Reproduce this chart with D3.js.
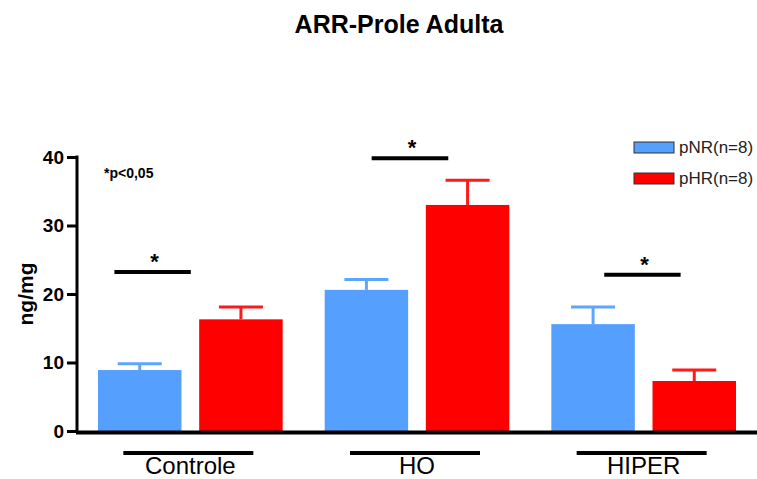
<!DOCTYPE html>
<html>
<head>
<meta charset="utf-8">
<script src="https://cdn.jsdelivr.net/npm/d3@7"></script>
<style>
  body { margin: 0; background: #fff; }
  text { font-family: "Liberation Sans", Arial, sans-serif; }
</style>
</head>
<body>
<div id="chart"></div>
<script>
// dados
var groups = ['Controle', 'HO', 'HIPER'];
var series = ['pNR(n=8)', 'pHR(n=8)'];
var pNR = [8.9, 20.6, 15.6];
var pNRerr = [0.9, 1.5, 2.5];
var pHR = [16.3, 33.0, 7.3];
var pHRerr = [1.8, 3.6, 1.6];
var yTicks = [0, 10, 20, 30, 40];
// linhas de significância: grupo, altura (ng/mg), início/fim em fração do grupo
var sigGroup = ['Controle', 'HO', 'HIPER'];
var sigValue = [23.2, 39.8, 22.8];
var sigFrom = [0.165, 0.30, 0.326];
var sigTo = [0.502, 0.638, 0.663];

var colors = ['#55A0FF', '#FF0000'];
var errColors = ['#5CA6FF', '#FF1A1A'];

var W = 757, H = 479;
var svg = d3.select('#chart').append('svg')
  .attr('width', W)
  .attr('height', H);

var x0 = d3.scaleBand().domain(groups).range([77, 757]);
var x1 = d3.scaleBand().domain(series).range([21, x0.bandwidth() - 21]).paddingInner(0.175);
var y = d3.scaleLinear().domain([0, 40]).range([431, 157]);

var data = [];
groups.forEach(function (g, i) {
  data.push({ g: g, s: series[0], v: pNR[i], e: pNRerr[i], c: 0 });
  data.push({ g: g, s: series[1], v: pHR[i], e: pHRerr[i], c: 1 });
});

// título
svg.append('text')
  .attr('x', 399)
  .attr('y', 33)
  .attr('text-anchor', 'middle')
  .attr('font-size', 25)
  .attr('font-weight', 'bold')
  .text('ARR-Prole Adulta');

// barras
svg.selectAll('rect.bar').data(data).enter().append('rect')
  .attr('class', 'bar')
  .attr('x', function (d) { return x0(d.g) + x1(d.s); })
  .attr('y', function (d) { return y(d.v); })
  .attr('width', x1.bandwidth())
  .attr('height', function (d) { return y(0) - y(d.v); })
  .attr('fill', function (d) { return colors[d.c]; });

// barras de erro (só para cima)
var eb = svg.selectAll('g.err').data(data).enter().append('g')
  .attr('class', 'err')
  .attr('stroke', function (d) { return errColors[d.c]; })
  .attr('stroke-width', 3);
eb.append('line')
  .attr('x1', function (d) { return x0(d.g) + x1(d.s) + x1.bandwidth() / 2; })
  .attr('x2', function (d) { return x0(d.g) + x1(d.s) + x1.bandwidth() / 2; })
  .attr('y1', function (d) { return y(d.v); })
  .attr('y2', function (d) { return y(d.v + d.e); });
eb.append('line')
  .attr('x1', function (d) { return x0(d.g) + x1(d.s) + x1.bandwidth() / 2 - 22; })
  .attr('x2', function (d) { return x0(d.g) + x1(d.s) + x1.bandwidth() / 2 + 22; })
  .attr('y1', function (d) { return y(d.v + d.e); })
  .attr('y2', function (d) { return y(d.v + d.e); });

// eixo y
var yAxis = svg.append('g')
  .attr('transform', 'translate(77,0)')
  .call(d3.axisLeft(y).tickValues(yTicks).tickSize(10).tickSizeOuter(0).tickPadding(3));
yAxis.select('.domain').attr('stroke-width', 3).attr('d', 'M0,' + (y(40) - 1.5) + 'V' + y(0));
yAxis.selectAll('.tick line').attr('stroke-width', 3);
yAxis.selectAll('.tick text')
  .attr('font-size', 19)
  .attr('font-weight', 'bold')
  .attr('fill', '#000')
  .attr('font-family', '"Liberation Sans", Arial, sans-serif');

// eixo x
svg.append('line')
  .attr('x1', 76).attr('x2', 757)
  .attr('y1', y(0) + 1.5).attr('y2', y(0) + 1.5)
  .attr('stroke', '#000').attr('stroke-width', 4);

// rótulos dos grupos com traço acima
var gl = svg.selectAll('g.glabel').data(groups).enter().append('g')
  .attr('class', 'glabel')
  .attr('transform', function (d) { return 'translate(' + (x0(d) + x0.bandwidth() / 2) + ',0)'; });
gl.append('line')
  .attr('x1', -67).attr('x2', 63)
  .attr('y1', 453).attr('y2', 453)
  .attr('stroke', '#000').attr('stroke-width', 4);
gl.append('text')
  .attr('y', 474)
  .attr('text-anchor', 'middle')
  .attr('font-size', 24)
  .text(function (d) { return d; });

// título do eixo y
svg.append('text')
  .attr('transform', 'translate(33,' + (y(20)) + ') rotate(-90)')
  .attr('text-anchor', 'middle')
  .attr('font-size', 21)
  .attr('font-weight', 'bold')
  .text('ng/mg');

// significância
sigGroup.forEach(function (g, i) {
  var a = x0(g) + sigFrom[i] * x0.bandwidth();
  var b = x0(g) + sigTo[i] * x0.bandwidth();
  svg.append('line')
    .attr('x1', a).attr('x2', b)
    .attr('y1', y(sigValue[i])).attr('y2', y(sigValue[i]))
    .attr('stroke', '#000').attr('stroke-width', 4);
  svg.append('text')
    .attr('x', (a + b) / 2 + 2)
    .attr('y', y(sigValue[i]) - 3)
    .attr('text-anchor', 'middle')
    .attr('font-size', 22)
    .attr('font-weight', 'bold')
    .text('*');
});

svg.append('text')
  .attr('x', 104)
  .attr('y', 178)
  .attr('font-size', 14)
  .attr('font-weight', 'bold')
  .text('*p<0,05');

// legenda
var lg = svg.selectAll('g.leg').data(series).enter().append('g')
  .attr('class', 'leg')
  .attr('transform', function (d, i) { return 'translate(634,' + (142 + i * 31) + ')'; });
lg.append('rect')
  .attr('width', 40).attr('height', 11)
  .attr('fill', function (d, i) { return colors[i]; })
  .attr('stroke', '#333').attr('stroke-width', 1);
lg.append('text')
  .attr('x', 45)
  .attr('y', 11)
  .attr('font-size', 17)
  .attr('fill', '#222')
  .text(function (d) { return d; });
</script>
</body>
</html>
